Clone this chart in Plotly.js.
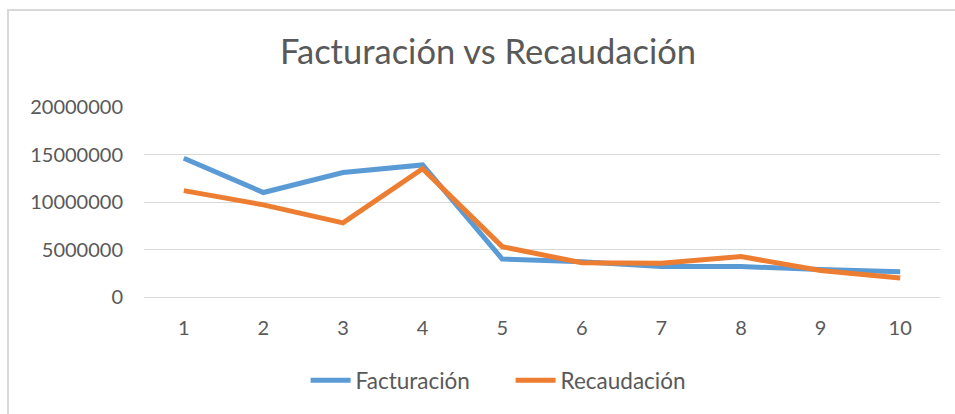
<!DOCTYPE html>
<html>
<head>
<meta charset="utf-8">
<script src="https://cdn.plot.ly/plotly-3.0.1.min.js"></script>
<style>
  html, body { margin: 0; padding: 0; background: #fff; overflow: hidden; }
  #wrap { position: relative; width: 955px; height: 414px; }
  #frame { position: absolute; left: 7px; top: 9px; width: 1000px; height: 500px;
           border-top: 2px solid #D9D9D9; border-left: 2px solid #D9D9D9; pointer-events: none; z-index: 5; }
  #chart { position: absolute; left: 0; top: 0; width: 955px; height: 414px; }
</style>
</head>
<body>
<div id="wrap">
  <div id="chart"></div>
  <div id="frame"></div>
</div>
<script>
const categories = ['1', '2', '3', '4', '5', '6', '7', '8', '9', '10'];
const facturacion = [14600000, 11000000, 13100000, 13900000, 4000000, 3700000, 3200000, 3200000, 2900000, 2650000];
const recaudacion = [11200000, 9700000, 7800000, 13500000, 5300000, 3600000, 3550000, 4250000, 2800000, 2000000];
const yTicks = [0, 5000000, 10000000, 15000000, 20000000];
const yTickText = ['0', '5000000', '10000000', '15000000', '20000000'];

const FONT = 'Lato, "Open Sans", sans-serif';
const GREY = '#595959';

const traces = [
  { x: categories, y: facturacion, name: 'Facturación', type: 'scatter', mode: 'lines',
    line: { color: '#5B9BD5', width: 5 } },
  { x: categories, y: recaudacion, name: 'Recaudación', type: 'scatter', mode: 'lines',
    line: { color: '#ED7D31', width: 5 } }
];

const layout = {
  width: 955, height: 414,
  margin: { l: 144, r: 15, t: 107, b: 117, pad: 0 },
  paper_bgcolor: '#fff', plot_bgcolor: '#fff',
  font: { family: FONT, color: GREY, size: 20 },
  title: { text: 'Facturación vs Recaudación', x: 0.511, xanchor: 'center', y: 0.875, yanchor: 'middle',
           font: { family: FONT, size: 34.5, color: GREY } },
  xaxis: { type: 'category', range: [-0.5, 9.5], showgrid: false, zeroline: false,
           showline: true, linecolor: '#D9D9D9', linewidth: 1, ticks: '',
           ticklabelstandoff: 13, tickfont: { size: 20, color: GREY }, fixedrange: true },
  yaxis: { range: [0, 20000000], tickvals: yTicks, ticktext: yTickText,
           showgrid: true, gridcolor: '#D9D9D9', gridwidth: 1, zeroline: false, showline: false,
           ticks: '', ticklabelstandoff: 20, tickfont: { size: 20, color: GREY }, fixedrange: true },
  showlegend: true,
  legend: { orientation: 'h', x: 0.203, xanchor: 'left', y: -0.44, yanchor: 'middle',
            entrywidth: 150, entrywidthmode: 'pixels',
            font: { size: 22.5, color: GREY }, itemwidth: 40, traceorder: 'normal' },
  hovermode: false
};

Plotly.newPlot('chart', traces, layout, { displayModeBar: false, staticPlot: true });
</script>
</body>
</html>
